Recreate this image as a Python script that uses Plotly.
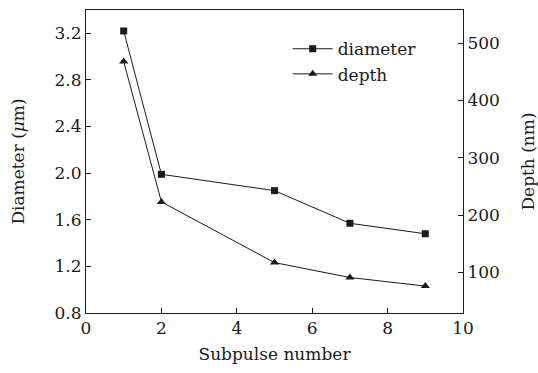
import plotly.graph_objects as go

subpulse = [1, 2, 5, 7, 9]
diameter = [3.22, 1.99, 1.85, 1.57, 1.48]
depth = [468, 223, 117, 91, 76]

x_ticks = [0, 2, 4, 6, 8, 10]
y1_ticks = [0.8, 1.2, 1.6, 2.0, 2.4, 2.8, 3.2]
y1_labels = ["0.8", "1.2", "1.6", "2.0", "2.4", "2.8", "3.2"]
y2_ticks = [100, 200, 300, 400, 500]

font = "DejaVu Serif"
fs = 17
fig = go.Figure()
fig.add_trace(go.Scatter(x=subpulse, y=diameter, name="diameter", mode="lines+markers",
                         line=dict(color="#1a1a1a", width=1),
                         marker=dict(symbol="square", size=7, color="#1a1a1a")))
fig.add_trace(go.Scatter(x=subpulse, y=depth, name="depth", mode="lines+markers", yaxis="y2",
                         line=dict(color="#1a1a1a", width=1),
                         marker=dict(symbol="triangle-up", size=8, color="#1a1a1a")))

axis_common = dict(showgrid=False, zeroline=False, showline=True, linecolor="#1a1a1a", linewidth=1,
                   ticks="inside", ticklen=5, tickcolor="#1a1a1a", automargin=False,
                   tickfont=dict(family=font, size=fs, color="#1a1a1a"))

fig.update_layout(
    width=538, height=373,
    margin=dict(l=86, r=75, t=10, b=60),
    paper_bgcolor="white", plot_bgcolor="white",
    font=dict(family=font, color="#1a1a1a"),
    xaxis=dict(range=[0, 10], tickvals=x_ticks, mirror=True,
               title=dict(text="Subpulse number", font=dict(family=font, size=fs), standoff=10),
               **axis_common),
    yaxis=dict(range=[0.8, 3.4], tickvals=y1_ticks, ticktext=y1_labels,
               title=dict(text="Diameter (<i>μ</i>m)", font=dict(family=font, size=fs), standoff=25),
               **axis_common),
    yaxis2=dict(range=[29, 558], tickvals=y2_ticks, overlaying="y", side="right",
                title=dict(text="Depth (nm)", font=dict(family=font, size=fs), standoff=23),
                **axis_common),
    legend=dict(x=0.535, y=0.93, xanchor="left", yanchor="top", bgcolor="rgba(0,0,0,0)",
                font=dict(family=font, size=fs), itemwidth=40, tracegroupgap=0),
    showlegend=True,
)
fig.write_html("out.html")
